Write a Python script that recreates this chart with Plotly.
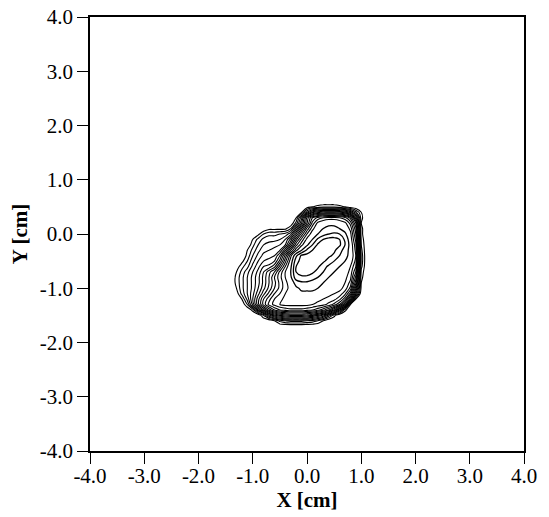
import plotly.graph_objects as go

# grid coordinates (cm)
x_cm = [-1.5, -1.4, -1.3, -1.2, -1.1, -1.0, -0.9, -0.8, -0.7, -0.6, -0.5, -0.4, -0.3, -0.2,
        -0.1, 0.0, 0.1, 0.2, 0.3, 0.4, 0.5, 0.6, 0.7, 0.8, 0.9, 1.0, 1.1, 1.2]
y_cm = [-1.8, -1.7, -1.6, -1.5, -1.4, -1.3, -1.2, -1.1, -1.0, -0.9, -0.8, -0.7, -0.6,
        -0.5, -0.4, -0.3, -0.2, -0.1, 0.0, 0.1, 0.2, 0.3, 0.4, 0.5, 0.6]

# intensity; one list per row (y), one entry per column (x)
z_m18 = [0, 0, 0, 0, 0, 0, 0, 0, 0, 0, 0, 0, 0, 0, 0, 0, 0, 0, 0, 0, 0, 0, 0, 0, 0, 0, 0, 0]
z_m17 = [0, 0, 0, 0, 0, 0, 0, 0, 0, 0, 0, 0, 0, 0, 0, 0, 0, 0, 0, 0, 0, 0, 0, 0, 0, 0, 0, 0]
z_m16 = [0, 0, 0, 0, 0, 0, 0, 0, 0, 3, 7, 9, 10, 10, 10, 9, 8, 6, 3, 0, 0, 0, 0, 0, 0, 0, 0, 0]
z_m15 = [0, 0, 0, 0, 0, 0, 0, 6, 14, 20, 24, 26, 27, 27, 27, 26, 24, 21, 17, 11, 4, 0, 0, 0, 0, 0, 0, 0]
z_m14 = [0, 0, 0, 0, 0, 4, 15, 24, 31, 36, 39, 40, 41, 41, 41, 40, 39, 37, 34, 30, 24, 15, 4, 0, 0, 0, 0, 0]
z_m13 = [0, 0, 0, 0, 6, 16, 26, 34, 40, 43, 45, 46, 46, 46, 46, 46, 45, 44, 43, 41, 38, 33, 24, 3, 0, 0, 0, 0]
z_m12 = [0, 0, 0, 3, 10, 18, 26, 33, 38, 42, 44, 46, 47, 47, 47, 47, 47, 46, 45, 44, 43, 40, 34, 22, 3, 0, 0, 0]
z_m11 = [0, 0, 1, 7, 12, 17, 23, 29, 34, 39, 42, 45, 47, 48, 49, 49, 49, 48, 47, 46, 45, 44, 40, 32, 15, 0, 0, 0]
z_m10 = [0, 0, 3, 8, 12, 16, 21, 26, 31, 36, 40, 44, 46, 49, 51, 51, 51, 50, 49, 48, 47, 46, 44, 38, 22, 2, 0, 0]
z_m09 = [0, 0, 4, 8, 12, 16, 20, 25, 30, 35, 40, 44, 47, 52, 54, 54, 53, 52, 50, 49, 48, 47, 45, 41, 28, 3, 0, 0]
z_m08 = [0, 0, 4, 8, 12, 16, 20, 25, 30, 36, 41, 45, 49, 58, 59, 59, 57, 55, 52, 50, 49, 48, 46, 43, 32, 4, 0, 0]
z_m07 = [0, 0, 3, 7, 11, 15, 19, 24, 29, 33, 40, 45, 50, 60, 62, 62, 61, 58, 55, 52, 50, 49, 47, 44, 36, 5, 0, 0]
z_m06 = [0, 0, 1, 5, 8, 13, 17, 21, 22, 26, 34, 42, 49, 60, 62, 63, 62, 61, 57, 54, 52, 50, 48, 45, 39, 7, 0, 0]
z_m05 = [0, 0, 0, 2, 6, 11, 15, 18, 19, 21, 28, 38, 47, 58, 62, 63, 63, 62, 61, 58, 55, 52, 50, 47, 41, 8, 0, 0]
z_m04 = [0, 0, 0, 0, 4, 9, 13, 16, 17, 18, 24, 34, 44, 54, 61, 62, 63, 63, 62, 61, 59, 55, 52, 48, 42, 8, 0, 0]
z_m03 = [0, 0, 0, 0, 3, 7, 11, 14, 15, 16, 18, 26, 36, 44, 50, 56, 60, 62, 63, 63, 61, 57, 53, 48, 41, 7, 0, 0]
z_m02 = [0, 0, 0, 0, 0, 5, 9, 12, 13, 14, 15, 18, 28, 38, 44, 49, 55, 61, 62, 63, 63, 61, 55, 48, 40, 6, 0, 0]
z_m01 = [0, 0, 0, 0, 0, 3, 7, 10, 11, 11, 12, 15, 22, 32, 40, 46, 50, 56, 60, 62, 62, 60, 54, 47, 38, 5, 0, 0]
z_p00 = [0, 0, 0, 0, 0, 0, 2, 6, 8, 8, 9, 10, 14, 24, 34, 42, 47, 50, 53, 55, 56, 55, 51, 46, 36, 4, 0, 0]
z_p01 = [0, 0, 0, 0, 0, 0, 0, 0, 2, 2, 2, 2, 6, 16, 27, 37, 44, 48, 50, 51, 51, 50, 48, 44, 34, 4, 0, 0]
z_p02 = [0, 0, 0, 0, 0, 0, 0, 0, 0, 0, 0, 0, 0, 7, 18, 30, 40, 46, 48, 49, 49, 48, 46, 41, 30, 3, 0, 0]
z_p03 = [0, 0, 0, 0, 0, 0, 0, 0, 0, 0, 0, 0, 0, 3, 14, 28, 36, 40, 42, 43, 43, 42, 40, 35, 22, 4, 0, 0]
z_p04 = [0, 0, 0, 0, 0, 0, 0, 0, 0, 0, 0, 0, 0, 0, 3, 12, 20, 23, 25, 25, 25, 24, 22, 17, 10, 3, 0, 0]
z_p05 = [0, 0, 0, 0, 0, 0, 0, 0, 0, 0, 0, 0, 0, 0, 0, 1, 3, 4, 5, 5, 5, 4, 3, 1, 0, 0, 0, 0]
z_p06 = [0, 0, 0, 0, 0, 0, 0, 0, 0, 0, 0, 0, 0, 0, 0, 0, 0, 0, 0, 0, 0, 0, 0, 0, 0, 0, 0, 0]

z_grid = [z_m18, z_m17, z_m16, z_m15, z_m14, z_m13, z_m12, z_m11, z_m10, z_m09, z_m08,
          z_m07, z_m06, z_m05, z_m04, z_m03, z_m02, z_m01, z_p00, z_p01, z_p02, z_p03,
          z_p04, z_p05, z_p06]

tick_vals = [-4.0, -3.0, -2.0, -1.0, 0.0, 1.0, 2.0, 3.0, 4.0]
tick_text = ["-4.0", "-3.0", "-2.0", "-1.0", "0.0", "1.0", "2.0", "3.0", "4.0"]

fig = go.Figure()
# dense outer band of contours
fig.add_trace(go.Contour(
    x=x_cm, y=y_cm, z=z_grid,
    contours=dict(coloring="lines", start=3, end=45, size=3),
    colorscale=[[0, "black"], [1, "black"]],
    line=dict(width=1.1, smoothing=0.8),
    showscale=False, hoverinfo="skip",
))
# inner contours
fig.add_trace(go.Contour(
    x=x_cm, y=y_cm, z=z_grid,
    contours=dict(coloring="lines", start=50, end=60, size=5),
    colorscale=[[0, "black"], [1, "black"]],
    line=dict(width=1.3, smoothing=0.8),
    showscale=False, hoverinfo="skip",
))

font_family = "Liberation Serif"
axis_common = dict(
    range=[-4, 4], tickvals=tick_vals, ticktext=tick_text,
    ticks="outside", ticklen=11, tickwidth=1.3, tickcolor="black",
    showline=True, linecolor="black", linewidth=1.6, mirror=True,
    showgrid=False, zeroline=False, ticklabeloverflow="allow",
    tickfont=dict(family=font_family, size=21, color="black"),
)
fig.update_xaxes(**axis_common, ticklabelstandoff=-6,
                 title=dict(text="<b>X [cm]</b>", font=dict(family=font_family, size=21, color="black"), standoff=3))
fig.update_yaxes(**axis_common,
                 title=dict(text="<b>Y [cm]</b>", font=dict(family=font_family, size=21, color="black"), standoff=6))

fig.update_layout(
    width=549, height=517,
    margin=dict(l=90, r=25, t=17, b=66, autoexpand=False),
    paper_bgcolor="white", plot_bgcolor="white",
    showlegend=False,
)

# remove the browser's default 8px page margin so the figure fills the window exactly
fig.write_html("out.html", config={"displayModeBar": False},
               post_script="document.body.style.margin='0';")
